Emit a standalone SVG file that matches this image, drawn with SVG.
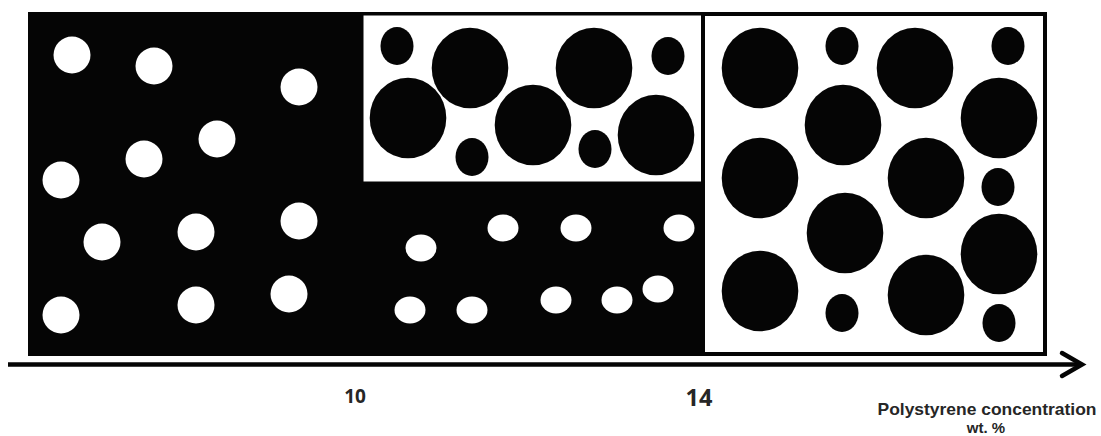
<svg xmlns="http://www.w3.org/2000/svg" width="1101" height="436" viewBox="0 0 1101 436">
  <style>
    .wd { fill: #ffffff; }
    .bk { fill: #050505; }
    .box { fill: #ffffff; stroke: #050505; }
    .lbl { font-family: "Open Sans", "Liberation Sans", sans-serif; font-weight: bold; fill: #262626; text-anchor: middle; }
    .ttl { font-family: "Liberation Sans", Arial, sans-serif; font-weight: bold; fill: #262626; text-anchor: middle; }
    .axis { stroke: #050505; fill: none; stroke-width: 4.5; }
  </style>
  <defs>
    <circle id="w" r="18.5" class="wd"/>
    <ellipse id="e" rx="15.5" ry="13.5" class="wd"/>
    <ellipse id="L" rx="38.3" ry="40.3" class="bk"/>
    <ellipse id="s" rx="16.5" ry="19" class="bk"/>
  </defs>

  <g id="background">
    <rect x="28" y="12" width="678" height="344" class="bk"/>
  </g>

  <g id="left-panel">
    <use href="#w" x="72" y="55"/>
    <use href="#w" x="154" y="66"/>
    <use href="#w" x="299" y="87"/>
    <use href="#w" x="217" y="139"/>
    <use href="#w" x="144" y="159"/>
    <use href="#w" x="61" y="180"/>
    <use href="#w" x="102" y="242"/>
    <use href="#w" x="196" y="232"/>
    <use href="#w" x="299" y="221"/>
    <use href="#w" x="61" y="315"/>
    <use href="#w" x="196" y="305"/>
    <use href="#w" x="289" y="294"/>
  </g>

  <g id="middle-bottom">
    <use href="#e" x="421" y="248"/>
    <use href="#e" x="503" y="228"/>
    <use href="#e" x="576" y="228"/>
    <use href="#e" x="679" y="228"/>
    <use href="#e" x="410" y="310"/>
    <use href="#e" x="472" y="310"/>
    <use href="#e" x="556" y="300"/>
    <use href="#e" x="617" y="300"/>
    <use href="#e" x="658" y="289"/>
  </g>

  <g id="middle-top">
    <rect x="362" y="14" width="341" height="169" class="box" stroke-width="3"/>
    <use href="#s" x="397" y="46"/>
    <use href="#L" x="470" y="68"/>
    <use href="#L" x="594" y="68"/>
    <use href="#s" x="668" y="56"/>
    <use href="#L" x="408" y="118"/>
    <use href="#s" x="472" y="157"/>
    <use href="#L" x="533" y="125"/>
    <use href="#s" x="595" y="149"/>
    <use href="#L" x="656" y="135"/>
  </g>

  <g id="right-panel">
    <rect x="703" y="14" width="342" height="340" class="box" stroke-width="4"/>
    <use href="#L" x="760" y="68"/>
    <use href="#s" x="842" y="46"/>
    <use href="#L" x="915" y="68"/>
    <use href="#s" x="1008" y="46"/>
    <use href="#L" x="843" y="125"/>
    <use href="#L" x="999" y="118"/>
    <use href="#L" x="760" y="178"/>
    <use href="#L" x="926" y="178"/>
    <use href="#s" x="998" y="187"/>
    <use href="#L" x="845" y="233"/>
    <use href="#L" x="999" y="254"/>
    <use href="#L" x="760" y="291"/>
    <use href="#s" x="842" y="313"/>
    <use href="#L" x="926" y="295"/>
    <use href="#s" x="999" y="323"/>
  </g>

  <g id="connectors">
    <line x1="8" y1="364.5" x2="1082" y2="364.5" class="axis"/>
    <polyline points="1062,353 1082,364.5 1062,376" class="axis" stroke-width="5" stroke-linecap="round" stroke-linejoin="miter"/>
  </g>

  <g id="labels">
    <text x="355" y="403" class="lbl" font-size="19">10</text>
    <text x="699" y="406" class="lbl" font-size="23.5">14</text>
    <text x="987" y="415" class="ttl" font-size="16.5" textLength="219" lengthAdjust="spacingAndGlyphs">Polystyrene concentration</text>
    <text x="986" y="432.5" class="ttl" font-size="15">wt. %</text>
  </g>
</svg>
